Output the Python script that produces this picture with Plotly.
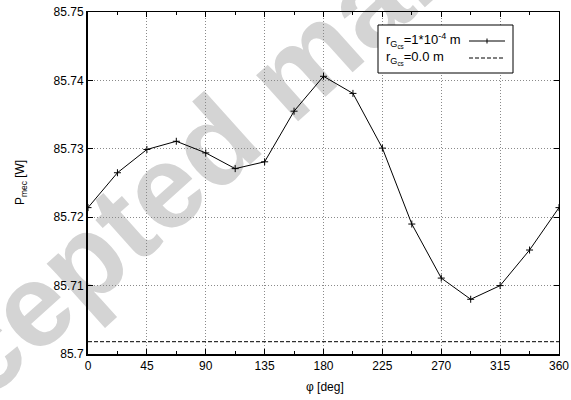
import plotly.graph_objects as go

# ---- data ----
phi_deg = [0, 22.5, 45, 67.5, 90, 112.5, 135, 157.5, 180, 202.5, 225,
           247.5, 270, 292.5, 315, 337.5, 360]
p_mec_r1e4 = [85.7214, 85.7265, 85.7299, 85.7311, 85.7294, 85.7271, 85.7281,
              85.7355, 85.7406, 85.7381, 85.7301, 85.7190, 85.7111, 85.7080,
              85.7100, 85.7152, 85.7214]
phi_ref = [0, 360]
p_mec_r0 = [85.7018, 85.7018]

x_ticks = [0, 45, 90, 135, 180, 225, 270, 315, 360]
y_ticks = [85.70, 85.71, 85.72, 85.73, 85.74, 85.75]
y_tick_text = ["85.7", "85.71", "85.72", "85.73", "85.74", "85.75"]

legend_labels = ["r<sub>G<sub>cs</sub></sub>=1*10<sup>-4</sup> m",
                 "r<sub>G<sub>cs</sub></sub>=0.0 m"]
x_title = "φ [deg]"
y_title = "P<sub>mec</sub> [W]"
watermark = "Accepted manuscript"

FONT = "Liberation Sans, Arial, Helvetica, sans-serif"

fig = go.Figure()
fig.add_trace(go.Scatter(x=phi_deg, y=p_mec_r1e4, mode="lines+markers",
                         line=dict(color="black", width=1),
                         marker=dict(symbol="cross-thin", size=5,
                                     line=dict(color="black", width=1)),
                         showlegend=False))
fig.add_trace(go.Scatter(x=phi_ref, y=p_mec_r0, mode="lines",
                         line=dict(color="black", width=1, dash="4px,2px"),
                         showlegend=False))
# mirror axes (thin top/right frame with ticks)
fig.add_trace(go.Scatter(x=[phi_deg[0]], y=[p_mec_r1e4[0]], xaxis="x2", yaxis="y2",
                         mode="markers", marker=dict(opacity=0), showlegend=False,
                         hoverinfo="skip"))

axis_common = dict(ticks="inside", ticklen=5, tickcolor="black",
                   tickfont=dict(family=FONT, size=12, color="black"),
                   zeroline=False, automargin=False)
GRID = dict(showgrid=True, gridcolor="#8a8a8a", griddash="1px,2px", gridwidth=1)

fig.update_layout(
    width=571, height=400,
    margin=dict(l=88, r=12, t=12, b=46),
    paper_bgcolor="white", plot_bgcolor="rgba(0,0,0,0)",
    font=dict(family=FONT, size=12, color="black"),
    xaxis=dict(range=[0, 360], tickvals=x_ticks, showline=True, linewidth=2,
               linecolor="black",
               minor=dict(dtick=22.5, tick0=0, ticks="inside", ticklen=3,
                          tickcolor="black", showgrid=False),
               **GRID, **axis_common),
    yaxis=dict(range=[85.70, 85.75], tickvals=y_ticks, ticktext=y_tick_text,
               showline=True, linewidth=2, linecolor="black",
               **GRID, **axis_common),
    xaxis2=dict(range=[0, 360], overlaying="x", side="top", tickvals=x_ticks,
                showticklabels=False, showline=True, linewidth=1,
                linecolor="black", showgrid=False,
                minor=dict(dtick=22.5, tick0=0, ticks="inside", ticklen=3,
                           tickcolor="black"),
                **axis_common),
    yaxis2=dict(range=[85.70, 85.75], overlaying="y", side="right",
                tickvals=y_ticks, showticklabels=False, showline=True,
                linewidth=1, linecolor="black", showgrid=False,
                **axis_common),
)

# page-pixel -> paper helpers
def px(xp):
    return (xp - 88) / 471.0

def py(yp):
    return (354 - yp) / 342.0

# watermark (drawn beneath grid and data, as in the original)
WX, WY = 284, 64
fig.add_shape(type="rect", xref="paper", yref="paper", layer="below",
              x0=px(WX - 5), x1=px(WX + 5), y0=py(WY + 5), y1=py(WY - 5),
              line=dict(width=0), fillcolor="rgba(0,0,0,0)",
              label=dict(text="<b>" + watermark + "</b>", textangle=-42,
                         textposition="middle center",
                         font=dict(family=FONT, size=118, color="#d4d4d4")))

# axis titles
fig.add_annotation(text=x_title, xref="paper", yref="paper", x=px(325), y=py(387),
                   xanchor="center", yanchor="middle", showarrow=False,
                   font=dict(family=FONT, size=12, color="black"))
fig.add_annotation(text=y_title, xref="paper", yref="paper", x=px(21), y=py(183),
                   xanchor="center", yanchor="middle", textangle=-90,
                   showarrow=False, font=dict(family=FONT, size=12, color="black"))

# manual legend (sample on the right, like the original)
fig.add_shape(type="rect", xref="paper", yref="paper",
              x0=px(378), x1=px(513), y0=py(73), y1=py(25),
              line=dict(color="black", width=1), fillcolor="white", layer="above")
fig.add_shape(type="line", xref="paper", yref="paper",
              x0=px(469), x1=px(505), y0=py(41), y1=py(41),
              line=dict(color="black", width=1))
fig.add_shape(type="line", xref="paper", yref="paper",
              x0=px(487), x1=px(487), y0=py(38.5), y1=py(43.5),
              line=dict(color="black", width=1))
fig.add_shape(type="line", xref="paper", yref="paper",
              x0=px(469), x1=px(505), y0=py(58), y1=py(58),
              line=dict(color="black", width=1, dash="4px,2px"))
for lbl, yy in zip(legend_labels, [41, 58]):
    fig.add_annotation(text=lbl, xref="paper", yref="paper", x=px(384), y=py(yy),
                       xanchor="left", yanchor="middle", showarrow=False,
                       font=dict(family=FONT, size=13, color="black"))

fig.write_html("out.html", config={"displayModeBar": False},
               post_script="document.body.style.margin='0px';")
